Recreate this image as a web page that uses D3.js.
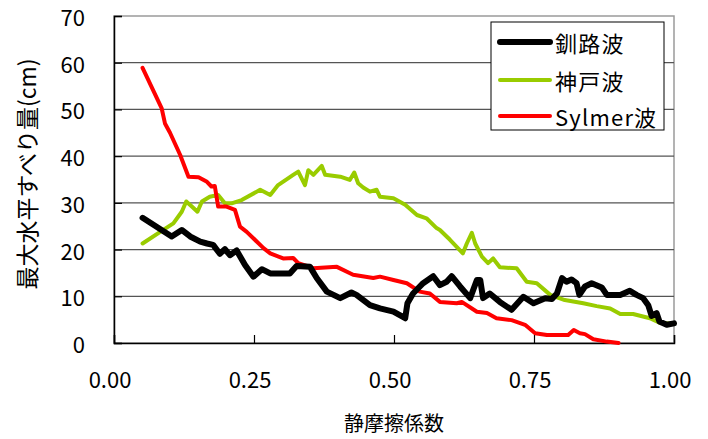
<!DOCTYPE html>
<html>
<head>
<meta charset="utf-8">
<script src="https://cdn.jsdelivr.net/npm/d3@7"></script>
<style>
  html, body { margin: 0; padding: 0; background: #fff; }
  svg text { font-family: "Noto Sans CJK JP", "Noto Sans", sans-serif; fill: #000; }
</style>
</head>
<body>
<svg id="chart" width="708" height="439"></svg>
<script>
// Static friction coefficient (x) vs. maximum horizontal slip (cm)
const seriesNames = ["釧路波", "神戸波", "Sylmer波"];

const kushiroX = [0.051,0.076,0.103,0.121,0.136,0.154,0.166,0.177,0.189,0.198,0.207,0.219,0.234,0.249,0.264,0.279,0.314,0.326,0.350,0.362,0.380,0.404,0.424,0.433,0.457,0.475,0.499,0.520,0.524,0.534,0.552,0.570,0.582,0.594,0.603,0.618,0.636,0.648,0.654,0.659,0.671,0.689,0.710,0.731,0.749,0.770,0.782,0.791,0.800,0.808,0.817,0.826,0.831,0.841,0.853,0.871,0.880,0.904,0.921,0.933,0.945,0.954,0.960,0.969,0.974,0.987,1.000];
const kushiroY = [26.8,24.9,22.8,24.2,22.8,21.7,21.3,21.0,19.1,20.1,18.8,19.8,16.7,14.2,15.8,14.9,14.9,16.5,16.3,13.9,11.0,9.6,10.8,10.3,8.1,7.4,6.7,5.3,8.5,10.6,12.8,14.3,12.4,13.1,14.3,12.1,9.6,13.5,13.5,9.6,10.6,8.8,7.1,9.9,8.5,9.6,9.4,10.6,13.9,13.1,13.6,12.8,10.3,12.1,12.8,11.9,10.3,10.3,11.2,10.3,9.6,8.1,5.8,6.4,4.6,3.9,4.2];

const kobeX = [0.051,0.088,0.106,0.121,0.129,0.139,0.149,0.157,0.171,0.186,0.198,0.210,0.228,0.261,0.279,0.293,0.320,0.329,0.341,0.347,0.356,0.371,0.377,0.404,0.421,0.429,0.436,0.445,0.457,0.469,0.475,0.499,0.520,0.541,0.558,0.576,0.582,0.600,0.623,0.630,0.639,0.645,0.657,0.668,0.677,0.689,0.719,0.737,0.755,0.779,0.805,0.838,0.862,0.886,0.904,0.927,0.957,0.975,1.000];
const kobeY = [21.3,24.2,25.6,28.1,30.3,29.2,28.1,30.3,31.3,31.7,29.9,29.9,30.6,32.8,31.7,33.8,36.0,36.7,33.8,37.0,36.0,37.9,36.0,35.6,34.9,36.5,34.2,33.3,32.4,32.8,31.3,31.0,29.6,27.4,26.7,24.6,24.2,22.1,19.2,21.3,23.6,21.3,18.5,17.1,18.1,16.2,16.0,13.1,12.8,10.3,9.2,8.5,7.9,7.4,6.2,6.2,5.3,4.3,4.1];

const sylmerX = [0.051,0.085,0.091,0.100,0.118,0.133,0.151,0.166,0.174,0.180,0.186,0.201,0.216,0.225,0.237,0.267,0.279,0.302,0.320,0.329,0.356,0.398,0.427,0.463,0.475,0.499,0.523,0.546,0.564,0.582,0.612,0.621,0.648,0.666,0.683,0.710,0.734,0.752,0.773,0.811,0.821,0.832,0.841,0.856,0.880,0.901];
const sylmerY = [58.9,50.3,47.0,45.0,40.3,35.6,35.5,34.5,33.5,33.6,29.2,29.2,28.5,24.9,23.8,20.3,19.2,18.1,18.2,17.1,16.0,16.3,14.6,13.9,14.2,13.5,12.8,11.0,10.6,8.8,8.5,8.8,6.7,6.4,5.3,4.9,3.9,2.1,1.7,1.7,2.8,2.1,1.9,0.8,0.3,0.0];

const xTicks = [0, 0.25, 0.5, 0.75, 1.0];
const yTicks = [0, 10, 20, 30, 40, 50, 60, 70];
const xTitle = "静摩擦係数";
const yTitle = "最大水平すべり量(cm)";

const colors = ["#000000", "#99cc00", "#ff0000"];
const widths = [6, 4, 4];

const svg = d3.select("#chart");
const plot = { left: 114, right: 674, top: 16, bottom: 343 };

const x = d3.scaleLinear().domain([0, 1]).range([plot.left, plot.right]);
const y = d3.scaleLinear().domain([0, 70]).range([plot.bottom, plot.top]);

// frame
svg.append("rect")
  .attr("x", plot.left).attr("y", plot.top)
  .attr("width", plot.right - plot.left).attr("height", plot.bottom - plot.top)
  .attr("fill", "none").attr("stroke", "#9a9a9a").attr("stroke-width", 1.5);

// horizontal gridlines
svg.append("g").selectAll("line")
  .data(yTicks.filter(d => d > 0 && d < 70))
  .join("line")
  .attr("x1", plot.left).attr("x2", plot.right)
  .attr("y1", d => y(d)).attr("y2", d => y(d))
  .attr("stroke", "#555").attr("stroke-width", 1.2);

// y axis
const yAxis = svg.append("g")
  .attr("transform", `translate(${plot.left},0)`)
  .call(d3.axisRight(y).tickValues(yTicks).tickSize(8).tickFormat(""));
yAxis.select(".domain").attr("stroke", "#000").attr("stroke-width", 1.5);
yAxis.selectAll(".tick line").attr("stroke", "#000").attr("stroke-width", 1.2);

svg.append("g").selectAll("text")
  .data(yTicks).join("text")
  .attr("x", 85).attr("y", d => y(d))
  .attr("text-anchor", "end").attr("dominant-baseline", "central")
  .attr("font-size", 22)
  .text(d => d);

// x axis
const xAxis = svg.append("g")
  .attr("transform", `translate(0,${plot.bottom})`)
  .call(d3.axisTop(x).tickValues(xTicks).tickSize(8).tickFormat(""));
xAxis.select(".domain").attr("stroke", "#000").attr("stroke-width", 1.5);
xAxis.selectAll(".tick line").attr("stroke", "#000").attr("stroke-width", 1.2);

svg.append("g").selectAll("text")
  .data(xTicks).join("text")
  .attr("x", d => x(d) - 4).attr("y", 378)
  .attr("text-anchor", "middle").attr("dominant-baseline", "central")
  .attr("font-size", 22)
  .text(d => d3.format(".2f")(d));

// axis titles
svg.append("text")
  .attr("x", 394).attr("y", 422)
  .attr("text-anchor", "middle").attr("dominant-baseline", "central")
  .attr("font-size", 20)
  .text(xTitle);

svg.append("text")
  .attr("transform", "translate(26,174) rotate(-90)")
  .attr("text-anchor", "middle").attr("dominant-baseline", "central")
  .attr("font-size", 23)
  .text(yTitle);

// series lines
const series = [
  { name: seriesNames[0], xs: kushiroX, ys: kushiroY, color: colors[0], w: widths[0] },
  { name: seriesNames[1], xs: kobeX, ys: kobeY, color: colors[1], w: widths[1] },
  { name: seriesNames[2], xs: sylmerX, ys: sylmerY, color: colors[2], w: widths[2] }
];

const line = d3.line().x(d => x(d[0])).y(d => y(d[1])).curve(d3.curveLinear);

[1, 2, 0].forEach(i => {
  const s = series[i];
  svg.append("path")
    .datum(s.xs.map((v, k) => [v, s.ys[k]]))
    .attr("d", line)
    .attr("fill", "none")
    .attr("stroke", s.color)
    .attr("stroke-width", s.w)
    .attr("stroke-linejoin", "round")
    .attr("stroke-linecap", "round");
});

// legend
const lg = svg.append("g");
lg.append("rect")
  .attr("x", 491).attr("y", 22).attr("width", 173).attr("height", 108)
  .attr("fill", "#fff").attr("stroke", "#000").attr("stroke-width", 1);
const legendY = [42, 80, 116];
series.forEach((s, i) => {
  lg.append("line")
    .attr("x1", 500).attr("x2", 550)
    .attr("y1", legendY[i]).attr("y2", legendY[i])
    .attr("stroke", s.color).attr("stroke-width", s.w)
    .attr("stroke-linecap", "round");
  lg.append("text")
    .attr("x", 555).attr("y", legendY[i])
    .attr("dominant-baseline", "central")
    .attr("font-size", 22).attr("letter-spacing", 1.2)
    .text(s.name);
});
</script>
</body>
</html>
